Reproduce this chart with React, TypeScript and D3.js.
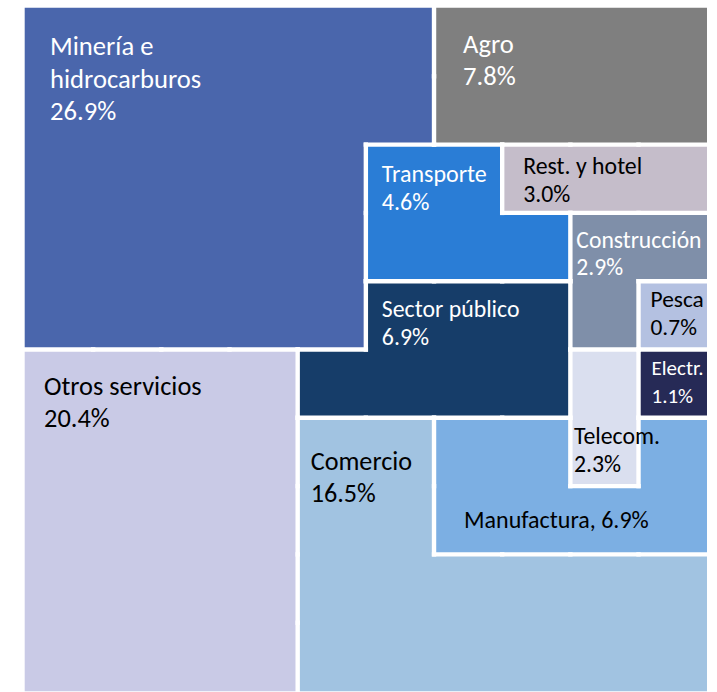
import React from "react";
import * as d3 from "d3";

// ---- data ----
const sectors = [
  "Minería e hidrocarburos",
  "Agro",
  "Transporte",
  "Rest. y hotel",
  "Construcción",
  "Pesca",
  "Sector público",
  "Electr.",
  "Telecom.",
  "Otros servicios",
  "Comercio",
  "Manufactura",
];
const shares = [26.9, 7.8, 4.6, 3.0, 2.9, 0.7, 6.9, 1.1, 2.3, 20.4, 16.5, 6.9];
const labelLines = [
  ["Minería e", "hidrocarburos"],
  ["Agro"],
  ["Transporte"],
  ["Rest. y hotel"],
  ["Construcción"],
  ["Pesca"],
  ["Sector público"],
  ["Electr."],
  ["Telecom."],
  ["Otros servicios"],
  ["Comercio"],
  ["Manufactura"],
];

// ---- layout (10x10 grid, one cell ≈ 1%) ----
const sectorKeys = ["M", "A", "T", "R", "C", "P", "S", "E", "K", "O", "c", "F"];
const cellMap = [
  "MMMMMMAAAA",
  "MMMMMMAAAA",
  "MMMMMTTRRR",
  "MMMMMTTTCC",
  "MMMMMSSSCP",
  "OOOOSSSSKE",
  "OOOOccFFKF",
  "OOOOccFFFF",
  "OOOOcccccc",
  "OOOOcccccc",
];

// ---- styles ----
const fills = [
  "#4A66AC", "#7F7F7F", "#2A7DD6", "#C5BDCA", "#7F8FA9", "#B4C1E1",
  "#163D69", "#262A56", "#DADFEF", "#C9CAE6", "#A1C3E1", "#7CAFE3",
];
const textFills = [
  "#FFFFFF", "#FFFFFF", "#FFFFFF", "#000000", "#FFFFFF", "#000000",
  "#FFFFFF", "#FFFFFF", "#000000", "#000000", "#000000", "#000000",
];
// [col, row, dx, dy, fontSize, lineHeight, inline]
const labelLayout: [number, number, number, number, number, number, boolean][] = [
  [0, 0, 25, 47, 26.6, 32.5, false],
  [6, 0, 29, 45, 26.6, 32, false],
  [5, 2, 16, 37, 24, 28.3, false],
  [7, 2, 21, 29, 23.8, 28.3, false],
  [8, 3, 6, 35, 23.6, 27.4, false],
  [9, 4, 12, 26, 23.4, 28, false],
  [5, 4, 16, 35.5, 23.8, 28.3, false],
  [9, 5, 13, 25.5, 21, 27.7, false],
  [8, 5, 3.6, 94, 23.8, 28.4, false],
  [0, 5, 19, 45.5, 26.4, 31.7, false],
  [4, 6, 13, 52, 26.2, 31.7, false],
  [6, 6, 30, 110, 24, 0, true],
];

const W = 717;
const H = 692;
const x = d3.scaleLinear().domain([0, 10]).range([25, 706.7]);
const y = d3.scaleLinear().domain([0, 10]).range([8, 691]);
const fmt = d3.format(".1f");

export default function App() {
  // one path per sector, union of its cells (avoids seams)
  const paths = sectors.map((_, i) => {
    const p = d3.path();
    cellMap.forEach((row, r) =>
      row.split("").forEach((k, c) => {
        if (sectorKeys.indexOf(k) === i) {
          p.rect(x(c) - 0.3, y(r) - 0.3, x(c + 1) - x(c) + 0.6, y(r + 1) - y(r) + 0.6);
        }
      })
    );
    return p.toString();
  });
  const lines: { x1: number; y1: number; x2: number; y2: number }[] = [];
  cellMap.forEach((row, r) => {
    for (let c = 0; c < 10; c++) {
      if (c < 9 && row[c] !== row[c + 1]) lines.push({ x1: c + 1, y1: r, x2: c + 1, y2: r + 1 });
      if (r < 9 && row[c] !== cellMap[r + 1][c]) lines.push({ x1: c, y1: r + 1, x2: c + 1, y2: r + 1 });
    }
  });

  return (
    <svg
      width={W}
      height={H}
      style={{ position: "absolute", left: 0, top: 0, display: "block", background: "#fff" }}
    >
      <g>
        {paths.map((d, i) => (
          <path key={i} d={d} fill={fills[i]} />
        ))}
      </g>
      <g>
        {lines.map((l, k) => (
          <line
            key={k}
            x1={x(l.x1)}
            y1={y(l.y1)}
            x2={x(l.x2)}
            y2={y(l.y2)}
            stroke="#fff"
            strokeWidth={4.4}
            strokeLinecap="square"
          />
        ))}
      </g>
      <g fontFamily="Carlito, Calibri, Lato, sans-serif">
        {sectors.map((s, i) => {
          const [c, r, dx, dy, fs, lh, inline] = labelLayout[i];
          const tx = x(c) + dx;
          const ty = y(r) + dy;
          const pct = fmt(shares[i]) + "%";
          const rows = inline ? [labelLines[i].join(" ") + ", " + pct] : [...labelLines[i], pct];
          return (
            <text key={s} x={tx} y={ty} fontSize={fs} fill={textFills[i]}>
              {rows.map((t, j) => (
                <tspan key={j} x={tx} y={ty + j * lh}>
                  {t}
                </tspan>
              ))}
            </text>
          );
        })}
      </g>
    </svg>
  );
}
